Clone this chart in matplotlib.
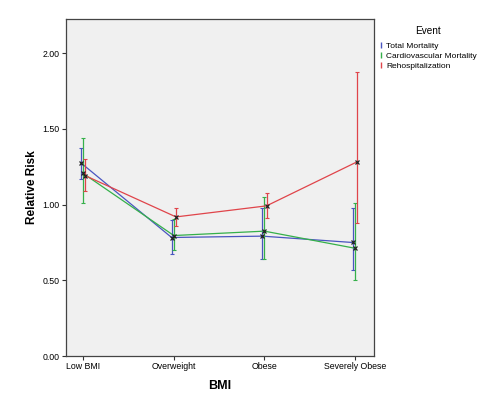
import matplotlib
matplotlib.use("Agg")
import matplotlib.pyplot as plt
import numpy as np

plt.rcParams.update({"font.family": "Liberation Sans", "font.size": 6.3})

categories = ["Low BMI", "Overweight", "Obese", "Severely Obese"]
series = ["Total Mortality", "Cardiovascular Mortality", "Rehospitalization"]
colors = ["#4a55c0", "#35b04a", "#e0444a"]

total_rr = [1.275, 0.783, 0.792, 0.750]
total_lo = [1.169, 0.677, 0.644, 0.571]
total_hi = [1.376, 0.897, 0.981, 0.981]

cardio_rr = [1.206, 0.796, 0.825, 0.712]
cardio_lo = [1.012, 0.699, 0.642, 0.500]
cardio_hi = [1.438, 0.902, 1.052, 1.014]

rehosp_rr = [1.191, 0.919, 0.992, 1.283]
rehosp_lo = [1.089, 0.860, 0.915, 0.880]
rehosp_hi = [1.303, 0.975, 1.074, 1.876]

data = [(total_rr, total_lo, total_hi),
        (cardio_rr, cardio_lo, cardio_hi),
        (rehosp_rr, rehosp_lo, rehosp_hi)]
offsets = [-0.024, 0.0, 0.024]

fig = plt.figure(figsize=(5.02, 3.93), dpi=100)
ax = fig.add_axes([0.1315, 0.094, 0.6135, 0.858])
ax.set_facecolor("#f0f0f0")

x = np.arange(len(categories))
handles = []
for (rr, lo, hi), col, off, name in zip(data, colors, offsets, series):
    xs = x + off
    rr, lo, hi = map(np.array, (rr, lo, hi))
    ax.plot(xs, rr, color=col, lw=0.9, zorder=2)
    ax.errorbar(xs, rr, yerr=[rr - lo, hi - rr], fmt="none", ecolor=col,
                elinewidth=0.9, capsize=1.2, capthick=0.8, zorder=2)
    ax.plot(xs, rr, ls="none", marker="x", ms=3.5, mew=0.9, color="#222222", zorder=3)
    h, = ax.plot([], [], ls="none", marker="$\\mathrm{I}$", ms=5, color=col, label=name)
    handles.append(h)

ax.set_xlim(-0.19, 3.21)
ax.set_ylim(0, 2.227)
ax.set_xticks(x)
ax.set_xticklabels(categories, fontsize=6.3)
ax.set_yticks([0, 0.5, 1.0, 1.5, 2.0])
ax.set_yticklabels(["0.00", "0.50", "1.00", "1.50", "2.00"], fontsize=6.3)
ax.tick_params(length=3, width=0.8, color="#333333", pad=1.5)
for s in ax.spines.values():
    s.set_color("#444444")
    s.set_linewidth(0.9)

ax.set_xlabel("BMI", fontsize=9, fontweight="bold", labelpad=6)
ax.set_ylabel("Relative Risk", fontsize=8.5, fontweight="bold", labelpad=3)

leg = fig.legend(handles=handles, title="Event", loc="upper left",
                 bbox_to_anchor=(0.747, 0.942), frameon=False, fontsize=6,
                 title_fontsize=7.2, handlelength=0.6, handletextpad=0.35,
                 labelspacing=0.28, borderaxespad=0)
leg._legend_box.sep = 4

fig.savefig("out.png", dpi=100, facecolor="white")
